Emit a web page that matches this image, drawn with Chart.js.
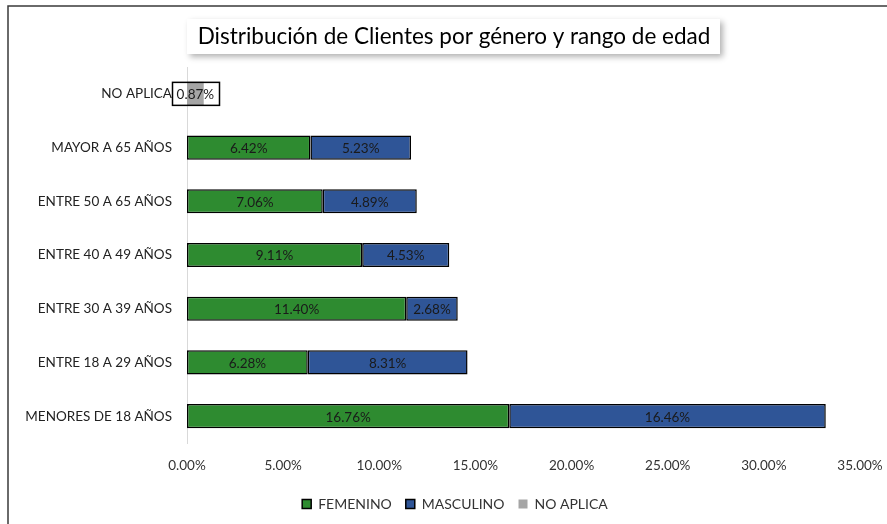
<!DOCTYPE html>
<html><head><meta charset="utf-8">
<script src="https://cdn.jsdelivr.net/npm/chart.js@4"></script>
<style>html,body{margin:0;padding:0;background:#fff}#wrap{position:relative;width:887px;height:524px}</style>
</head><body><div id="wrap"><canvas id="c" width="887" height="524"></canvas></div>
<script>
const categories = ["NO APLICA","MAYOR A 65 AÑOS","ENTRE 50 A 65 AÑOS","ENTRE 40 A 49 AÑOS","ENTRE 30 A 39 AÑOS","ENTRE 18 A 29 AÑOS","MENORES DE 18 AÑOS"];
const femenino = [null,6.42,7.06,9.11,11.40,6.28,16.76];
const masculino = [null,5.23,4.89,4.53,2.68,8.31,16.46];
const noAplica = [0.87,null,null,null,null,null,null];
const xTicks = [0,5,10,15,20,25,30,35];
const titleText = "Distribución de Clientes por género y rango de edad";
const FONT = "Lato, 'Open Sans', sans-serif";

const labelsPlugin = {
  id:'lbls',
  afterLayout(chart){
    const lg=chart.legend;
    if(lg){ lg.left+=25; lg.right+=25; lg.adjustHitBoxes(); }
  },
  beforeDraw(chart){
    const ctx=chart.ctx;
    ctx.save();
    ctx.fillStyle='#fff';ctx.fillRect(0,0,chart.width,chart.height);
    ctx.strokeStyle='#3a3a3a';ctx.lineWidth=1.5;
    ctx.beginPath();ctx.moveTo(8,chart.height);ctx.lineTo(8,6);ctx.lineTo(chart.width,6);ctx.stroke();
    ctx.shadowColor='rgba(0,0,0,0.3)';ctx.shadowBlur=6;ctx.shadowOffsetX=3;ctx.shadowOffsetY=3;
    ctx.fillStyle='#fff';ctx.fillRect(187,19,533,35);
    ctx.restore();
    ctx.save();
    ctx.fillStyle='#000';ctx.font="22.5px "+FONT;ctx.textAlign='center';ctx.textBaseline='middle';
    ctx.fillText(titleText,454,37);
    ctx.restore();
  },
  afterDatasetsDraw(chart){
    const ctx=chart.ctx;
    ctx.save();
    ctx.font="13.5px "+FONT;ctx.textAlign='center';ctx.textBaseline='middle';ctx.fillStyle='#1a1a1a';
    chart.data.datasets.forEach((ds,di)=>{
      const meta=chart.getDatasetMeta(di);
      meta.data.forEach((el,i)=>{
        const v=ds.data[i]; if(v==null) return;
        const cx=(el.x+el.base)/2, cy=el.y;
        const t=v.toFixed(2)+'%';
        if(di===2){
          const w=ctx.measureText(t).width;
          ctx.strokeStyle='#000';ctx.lineWidth=1.5;
          ctx.strokeRect(Math.round(cx-w/2-5)+0.5,cy-11.5,Math.round(w+10),23);
        }
        ctx.fillText(t,cx,cy+1);
      });
    });
    ctx.restore();
  }
};

new Chart(document.getElementById('c'),{
  type:'bar',
  data:{labels:categories,datasets:[
    {label:'FEMENINO',data:femenino,backgroundColor:'#2E8B30',borderColor:'#000',borderWidth:1.5,borderSkipped:false},
    {label:'MASCULINO',data:masculino,backgroundColor:'#2F5597',borderColor:'#000',borderWidth:1.5,borderSkipped:false},
    {label:'NO APLICA',data:noAplica,backgroundColor:'#A5A5A5',borderColor:'#A5A5A5',borderWidth:0}
  ]},
  options:{
    indexAxis:'y',responsive:false,animation:false,
    barPercentage:0.45,categoryPercentage:1,
    layout:{padding:{top:67,right:27,left:0,bottom:3}},
    plugins:{
      title:{display:false},tooltip:{enabled:false},
      legend:{position:'bottom',
        labels:{font:{family:FONT,size:14},color:'#333',boxWidth:9,boxHeight:9,padding:14}}
    },
    scales:{
      x:{stacked:true,min:0,max:35,
        afterBuildTicks(s){s.ticks=xTicks.map(v=>({value:v}));},
        ticks:{callback:v=>Number(v).toFixed(2)+'%',font:{family:FONT,size:13.5},color:'#333',padding:15},
        grid:{display:false,drawTicks:false},border:{display:false},
        afterFit(s){s.height=40;s.paddingRight=0;s.paddingLeft=0;}
      },
      y:{stacked:true,
        ticks:{font:{family:FONT,size:13.5},color:'#222',padding:15},
        grid:{display:false,drawTicks:false},border:{display:true,color:'#d9d9d9',width:1},
        afterFit(s){s.width=187;}
      }
    }
  },
  plugins:[labelsPlugin]
});
</script></body></html>
